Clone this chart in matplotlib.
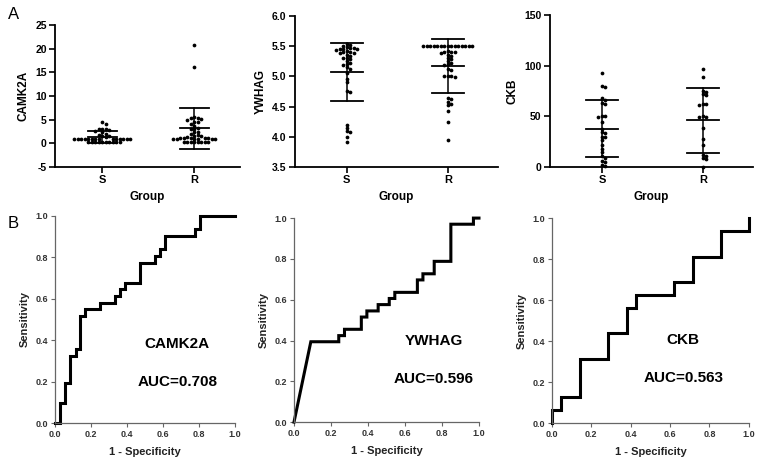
import matplotlib
matplotlib.use("Agg")
import matplotlib.pyplot as plt
import numpy as np

plt.rcParams['font.family'] = ['Liberation Sans', 'DejaVu Sans']

# ---------------------------------------------------------------
# Panel A: scatter (dot plot) data
# ---------------------------------------------------------------
grupos = ["S", "R"]

camk2a_s = [4.5, 4.0, 3.1, 3.0, 3.0, 2.9, 2.6, 2.4, 2.0, 1.8, 1.5, 1.5, 1.3,
            1.0, 1.0, 1.0, 1.0, 1.0, 1.0, 1.0, 1.0, 1.0, 1.0, 1.0, 1.0, 1.0, 1.0,
            0.3, 0.3, 0.3, 0.3, 0.3, 0.3, 0.3, 0.3, 0.3, 0.3]
camk2a_r = [20.7, 16.0, 5.6, 5.4, 5.3, 5.1, 5.0, 4.6, 4.4, 4.0, 3.7, 3.2, 3.0, 3.0,
            2.5, 2.3, 2.0, 1.7, 1.6, 1.5, 1.4, 1.2, 1.2, 1.2, 1.1, 1.1, 1.0, 1.0,
            1.0, 1.0, 0.9, 0.9, 0.3, 0.3, 0.3, 0.3, 0.3, 0.3, 0.2, 0.2]
camk2a_media = [1.3, 3.2]
camk2a_sd = [1.3, 4.3]

ywhag_s = [5.53, 5.52, 5.50, 5.48, 5.47, 5.47, 5.46, 5.45, 5.45, 5.44, 5.42, 5.40,
           5.40, 5.39, 5.38, 5.36, 5.34, 5.30, 5.30, 5.28, 5.25, 5.22, 5.20, 5.18,
           5.15, 5.12, 5.05, 4.95, 4.90, 4.76, 4.74, 4.20, 4.15, 4.10, 4.08, 4.00, 3.92]
ywhag_r = [5.50, 5.50, 5.50, 5.50, 5.50, 5.50, 5.50, 5.50, 5.50, 5.50, 5.50, 5.50,
           5.50, 5.50, 5.50, 5.42, 5.41, 5.40, 5.40, 5.38, 5.36, 5.33,
           5.30, 5.28, 5.25, 5.22, 5.20, 5.18, 5.12, 5.10, 5.01, 5.00, 5.00, 4.99,
           4.65, 4.62, 4.58, 4.55, 4.52, 4.42, 4.25, 3.95]
ywhag_media = [5.08, 5.17]
ywhag_sd = [0.48, 0.44]

ckb_s = [93, 80, 79, 68, 66, 63, 62, 50, 50, 49, 44, 38, 35, 34, 30, 30, 27, 22,
         18, 15, 11, 9, 6, 5, 2, 1]
ckb_r = [97, 89, 75, 74, 72, 71, 62, 62, 61, 50, 49, 49, 39, 28, 22, 12, 11, 9, 8, 0]
ckb_media = [38, 46]
ckb_sd = [28, 32]

# ---------------------------------------------------------------
# Panel B: ROC curves (vertices of the step curves)
# ---------------------------------------------------------------
camk2a_fpr = [0, 0.028, 0.028, 0.056, 0.056, 0.083, 0.083, 0.117, 0.117, 0.139, 0.139,
              0.167, 0.167, 0.25, 0.25, 0.333, 0.333, 0.361, 0.361, 0.389, 0.389,
              0.472, 0.472, 0.556, 0.556, 0.583, 0.583, 0.611, 0.611, 0.778, 0.778,
              0.806, 0.806, 1.0]
camk2a_tpr = [0, 0, 0.097, 0.097, 0.194, 0.194, 0.323, 0.323, 0.355, 0.355, 0.516,
              0.516, 0.548, 0.548, 0.581, 0.581, 0.613, 0.613, 0.645, 0.645, 0.677,
              0.677, 0.774, 0.774, 0.806, 0.806, 0.839, 0.839, 0.903, 0.903, 0.935,
              0.935, 1.0, 1.0]

ywhag_fpr = [0, 0.091, 0.242, 0.242, 0.273, 0.273, 0.364, 0.364, 0.394, 0.394, 0.455,
             0.455, 0.515, 0.515, 0.545, 0.545, 0.667, 0.667, 0.697, 0.697, 0.758,
             0.758, 0.848, 0.848, 0.970, 0.970, 1.0]
ywhag_tpr = [0, 0.394, 0.394, 0.424, 0.424, 0.455, 0.455, 0.515, 0.515, 0.545, 0.545,
             0.576, 0.576, 0.606, 0.606, 0.636, 0.636, 0.697, 0.697, 0.727, 0.727,
             0.788, 0.788, 0.970, 0.970, 1.0, 1.0]

ckb_fpr = [0, 0, 0.048, 0.048, 0.143, 0.143, 0.286, 0.286, 0.381, 0.381, 0.429, 0.429,
           0.619, 0.619, 0.714, 0.714, 0.857, 0.857, 1.0, 1.0]
ckb_tpr = [0, 0.0625, 0.0625, 0.125, 0.125, 0.3125, 0.3125, 0.4375, 0.4375, 0.5625,
           0.5625, 0.625, 0.625, 0.6875, 0.6875, 0.8125, 0.8125, 0.9375, 0.9375, 1.0]

auc_textos = ["AUC=0.708", "AUC=0.596", "AUC=0.563"]


# ---------------------------------------------------------------
# swarm: x offsets so the dots do not overlap (in pixel space)
# ---------------------------------------------------------------
def swarm_x(ax, centro, valores, paso_px=3.5):
    colocados = []
    xs = []
    inv = ax.transData.inverted()
    for v in valores:
        x0, y0 = ax.transData.transform((centro, v))
        k = 0
        while True:
            paso = (k + 1) // 2 * (1 if k % 2 == 1 else -1)
            xp = x0 + paso * paso_px
            ok = all((xp - a) ** 2 + (y0 - b) ** 2 >= (paso_px * 0.85) ** 2 for a, b in colocados)
            if ok:
                break
            k += 1
        colocados.append((xp, y0))
        xs.append(inv.transform((xp, y0))[0])
    return xs


def panel_puntos(ax, datos, media, sd, ylim, yticks, ylabel, fmt):
    ax.set_xlim(-0.515, 1.495)
    ax.set_ylim(*ylim)
    for i, vals in enumerate(datos):
        xs = swarm_x(ax, i, vals)
        ax.plot(xs, vals, 'o', color='black', ms=2.7, mew=0, clip_on=False, zorder=3)
        m, s = media[i], sd[i]
        for yy in (m - s, m, m + s):
            ax.plot([i - 0.16, i + 0.16], [yy, yy], color='black', lw=1.3, zorder=4,
                    clip_on=False)
        ax.plot([i, i], [m - s, m + s], color='black', lw=1.1, zorder=4, clip_on=False)
    ax.set_xticks([0, 1])
    ax.set_xticklabels(grupos, fontsize=8, fontweight='bold')
    ax.set_yticks(yticks)
    ax.set_yticklabels([fmt.format(t) for t in yticks], fontsize=7.5, fontweight='bold')
    ax.set_ylabel(ylabel, fontsize=8.5, fontweight='bold', labelpad=4)
    ax.set_xlabel("Group", fontsize=8.5, fontweight='bold', labelpad=4)
    for lado in ['top', 'right']:
        ax.spines[lado].set_visible(False)
    for lado in ['left', 'bottom']:
        ax.spines[lado].set_linewidth(1.3)
    ax.tick_params(direction='out', length=4, width=1.2, pad=2)


def panel_roc(ax, fpr, tpr, nombre, auc, pos_txt):
    ax.plot(fpr, tpr, color='black', lw=2.2, clip_on=False, solid_joinstyle='miter')
    ax.set_xlim(0, 1)
    ax.set_ylim(0, 1)
    ticks = [0.0, 0.2, 0.4, 0.6, 0.8, 1.0]
    ax.set_xticks(ticks)
    ax.set_yticks(ticks)
    ax.set_xticklabels(["%.1f" % t for t in ticks], fontsize=6.5, fontweight='bold', color='#333333')
    ax.set_yticklabels(["%.1f" % t for t in ticks], fontsize=6.5, fontweight='bold', color='#333333')
    ax.set_xlabel("1 - Specificity", fontsize=8, fontweight='bold', color='#222222', labelpad=6)
    ax.set_ylabel("Sensitivity", fontsize=8, fontweight='bold', color='#222222', labelpad=4)
    for lado in ['top', 'right']:
        ax.spines[lado].set_visible(False)
    for lado in ['left', 'bottom']:
        ax.spines[lado].set_linewidth(0.9)
        ax.spines[lado].set_color('#666666')
    ax.tick_params(direction='out', length=3, width=0.8, color='#666666', pad=2)
    ax.text(pos_txt[0], pos_txt[1], nombre, ha='center', va='center', fontsize=11,
            fontweight='bold')
    ax.text(pos_txt[0], pos_txt[2], auc, ha='center', va='center', fontsize=11,
            fontweight='bold')


fig = plt.figure(figsize=(7.66, 4.68), dpi=100)

ax1 = fig.add_axes([0.0718, 0.643, 0.2415, 0.304])
ax2 = fig.add_axes([0.385, 0.643, 0.265, 0.323])
ax3 = fig.add_axes([0.718, 0.643, 0.265, 0.325])

panel_puntos(ax1, [camk2a_s, camk2a_r], camk2a_media, camk2a_sd, (-5, 25),
             [-5, 0, 5, 10, 15, 20, 25], "CAMK2A", "{:g}")
panel_puntos(ax2, [ywhag_s, ywhag_r], ywhag_media, ywhag_sd, (3.5, 6.0),
             [3.5, 4.0, 4.5, 5.0, 5.5, 6.0], "YWHAG", "{:.1f}")
panel_puntos(ax3, [ckb_s, ckb_r], ckb_media, ckb_sd, (0, 150),
             [0, 50, 100, 150], "CKB", "{:g}")

bx1 = fig.add_axes([0.0718, 0.096, 0.235, 0.443])
bx2 = fig.add_axes([0.3838, 0.098, 0.2415, 0.436])
bx3 = fig.add_axes([0.7206, 0.096, 0.257, 0.438])

panel_roc(bx1, camk2a_fpr, camk2a_tpr, "CAMK2A", auc_textos[0], (0.68, 0.38, 0.20))
panel_roc(bx2, ywhag_fpr, ywhag_tpr, "YWHAG", auc_textos[1], (0.756, 0.40, 0.213))
panel_roc(bx3, ckb_fpr, ckb_tpr, "CKB", auc_textos[2], (0.667, 0.407, 0.218))

fig.text(0.010, 0.970, "A", fontsize=12, va='center')
fig.text(0.010, 0.523, "B", fontsize=12, va='center')

fig.savefig("out.png", dpi=100)
